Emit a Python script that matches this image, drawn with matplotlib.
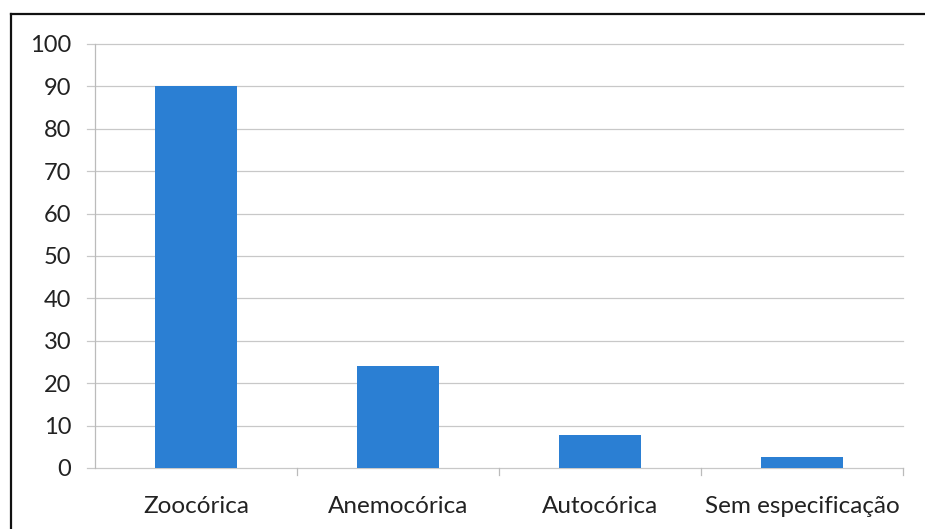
import matplotlib.pyplot as plt
from matplotlib.lines import Line2D

categories = ["Zoocórica", "Anemocórica", "Autocórica", "Sem especificação"]
values = [90, 24, 7.7, 2.5]
y_ticks = [0, 10, 20, 30, 40, 50, 60, 70, 80, 90, 100]

plt.rcParams["font.family"] = ["Lato", "DejaVu Sans"]

fig = plt.figure(figsize=(9.25, 5.29), dpi=100)
ax = fig.add_axes([95 / 925, 1 - 468 / 529, (903 - 95) / 925, (468 - 44) / 529])

x = range(len(categories))
ax.bar(x, values, width=0.41, color="#2b7fd3", zorder=3)

ax.set_xlim(-0.5, len(categories) - 0.5)
ax.set_ylim(0, 100)
ax.set_yticks(y_ticks)
ax.set_yticklabels([str(t) for t in y_ticks], fontsize=17, color="#222222")
ax.set_xticks(list(x))
ax.set_xticklabels(categories, fontsize=17.5, color="#222222")
ax.tick_params(axis="x", length=0, pad=20)
ax.tick_params(axis="y", length=0, pad=17)

# gridlines extend a little left of the axis like the reference
for t in y_ticks:
    ax.plot([-0.54, len(categories) - 0.5], [t, t], color="#c8c8c8", lw=0.9,
            clip_on=False, zorder=1)
# category boundary ticks below the axis
for b in [0.5, 1.5, 2.5, 3.5]:
    ax.plot([b, b], [0, -1.6], color="#bbbbbb", lw=0.9, clip_on=False)

for s in ["top", "right", "bottom"]:
    ax.spines[s].set_visible(False)
ax.spines["left"].set_color("#bbbbbb")
ax.spines["left"].set_linewidth(0.9)

# outer frame of the chart area
fig.add_artist(Line2D([11 / 925, 11 / 925], [0, 1 - 14 / 529], color="#111111", lw=1.6))
fig.add_artist(Line2D([11 / 925, 1], [1 - 14 / 529, 1 - 14 / 529], color="#111111", lw=1.6))

fig.savefig("out.png", dpi=100)
